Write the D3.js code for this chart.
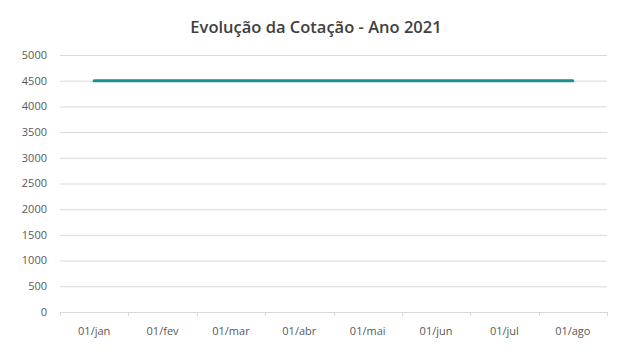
<!DOCTYPE html>
<html>
<head>
<meta charset="utf-8">
<script src="https://cdn.jsdelivr.net/npm/d3@7"></script>
<style>
  body { margin: 0; background: #fff; }
  svg text { font-family: "Open Sans", "Liberation Sans", sans-serif; }
</style>
</head>
<body>
<div id="chart"></div>
<script>
// ── Data ─────────────────────────────────────────
var months = ["01/jan", "01/fev", "01/mar", "01/abr", "01/mai", "01/jun", "01/jul", "01/ago"];
var cotacao = [4500, 4500, 4500, 4500, 4500, 4500, 4500, 4500];
var yTicks = [0, 500, 1000, 1500, 2000, 2500, 3000, 3500, 4000, 4500, 5000];
var title = "Evolução da Cotação - Ano 2021";

var W = 631, H = 355;
var margin = { top: 55, right: 24, bottom: 43, left: 60 };
var iW = W - margin.left - margin.right;
var iH = H - margin.top - margin.bottom;

var svg = d3.select("#chart").append("svg")
  .attr("width", W).attr("height", H);

svg.append("text")
  .attr("x", 316).attr("y", 33)
  .attr("text-anchor", "middle")
  .attr("font-size", 16.5)
  .attr("font-weight", 600)
  .attr("fill", "#404040")
  .text(title);

var g = svg.append("g").attr("transform", "translate(" + margin.left + "," + margin.top + ")");

var x = d3.scaleBand().domain(months).range([0, iW]);
var y = d3.scaleLinear().domain([0, 5000]).range([iH, 0]);

// gridlines
g.selectAll(".grid").data(yTicks.slice(1))
  .join("line")
  .attr("x1", 0).attr("x2", iW)
  .attr("y1", function (d) { return y(d) + 0.5; })
  .attr("y2", function (d) { return y(d) + 0.5; })
  .attr("stroke", "#d9d9d9").attr("stroke-width", 1);

// y labels
g.selectAll(".ylab").data(yTicks)
  .join("text")
  .attr("x", -13).attr("y", function (d) { return y(d); })
  .attr("dy", "0.35em")
  .attr("text-anchor", "end")
  .attr("font-size", 11)
  .attr("fill", "#595959")
  .text(function (d) { return d; });

// x axis line + tick marks between categories
g.append("line")
  .attr("x1", 0).attr("x2", iW)
  .attr("y1", iH + 0.5).attr("y2", iH + 0.5)
  .attr("stroke", "#d9d9d9");
var bounds = months.map(function (m) { return x(m); }).concat([iW]);
g.selectAll(".xtick").data(bounds)
  .join("line")
  .attr("x1", function (d) { return Math.round(d) + 0.5; })
  .attr("x2", function (d) { return Math.round(d) + 0.5; })
  .attr("y1", iH).attr("y2", iH + 4)
  .attr("stroke", "#d9d9d9");

g.selectAll(".xlab").data(months)
  .join("text")
  .attr("x", function (d) { return x(d) + x.bandwidth() / 2; })
  .attr("y", iH + 19)
  .attr("dy", "0.35em")
  .attr("text-anchor", "middle")
  .attr("font-size", 11)
  .attr("fill", "#595959")
  .text(function (d) { return d; });

// series line
var line = d3.line()
  .x(function (d, i) { return x(months[i]) + x.bandwidth() / 2; })
  .y(function (d) { return y(d); });

g.append("path")
  .datum(cotacao)
  .attr("d", line)
  .attr("fill", "none")
  .attr("stroke", "#1a9090")
  .attr("stroke-width", 3)
  .attr("stroke-linecap", "round");
</script>
</body>
</html>
